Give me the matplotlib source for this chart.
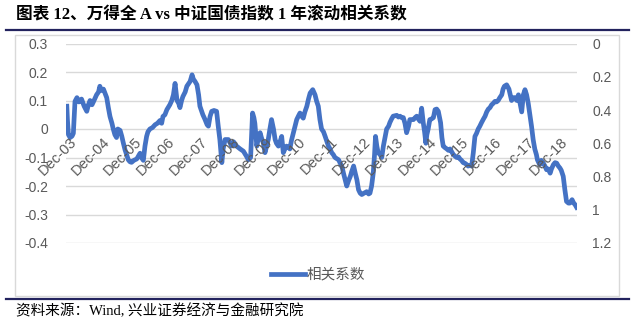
import matplotlib
matplotlib.use("Agg")
import matplotlib.pyplot as plt
from matplotlib.patches import Rectangle
from matplotlib.lines import Line2D
import matplotlib.transforms as mtransforms

# ---------------- data ----------------
t_years = [
    2003.93, 2003.95, 2003.98, 2004.03, 2004.09, 2004.13, 2004.18, 2004.24, 2004.30, 2004.38,
    2004.46, 2004.54, 2004.59, 2004.64, 2004.70, 2004.75, 2004.84, 2004.90, 2004.94, 2004.99,
    2005.05, 2005.10, 2005.15, 2005.20, 2005.25, 2005.31, 2005.35, 2005.40, 2005.45, 2005.49,
    2005.56, 2005.61, 2005.66, 2005.71, 2005.76, 2005.81, 2005.86, 2005.91, 2005.98, 2006.07,
    2006.12, 2006.17, 2006.21, 2006.27, 2006.32, 2006.37, 2006.41, 2006.47, 2006.55, 2006.63,
    2006.70, 2006.78, 2006.83, 2006.87, 2006.93, 2006.99, 2007.08, 2007.14, 2007.19, 2007.24,
    2007.27, 2007.30, 2007.35, 2007.39, 2007.44, 2007.48, 2007.55, 2007.60, 2007.70, 2007.76,
    2007.80, 2007.85, 2007.91, 2007.96, 2008.00, 2008.09, 2008.15, 2008.22, 2008.26, 2008.31,
    2008.36, 2008.43, 2008.51, 2008.56, 2008.61, 2008.67, 2008.71, 2008.77, 2008.87, 2008.97,
    2009.03, 2009.12, 2009.23, 2009.33, 2009.42, 2009.48, 2009.55, 2009.61, 2009.65, 2009.68,
    2009.74, 2009.79, 2009.84, 2009.88, 2009.94, 2009.99, 2010.04, 2010.09, 2010.14, 2010.19,
    2010.25, 2010.30, 2010.34, 2010.40, 2010.45, 2010.50, 2010.55, 2010.60, 2010.65, 2010.71,
    2010.75, 2010.80, 2010.86, 2010.91, 2010.96, 2011.01, 2011.06, 2011.11, 2011.16, 2011.21,
    2011.27, 2011.32, 2011.37, 2011.45, 2011.52, 2011.57, 2011.62, 2011.67, 2011.72, 2011.78,
    2011.83, 2011.87, 2011.93, 2011.98, 2012.03, 2012.08, 2012.13, 2012.24, 2012.29, 2012.34,
    2012.39, 2012.44, 2012.49, 2012.55, 2012.60, 2012.64, 2012.70, 2012.75, 2012.80, 2012.85,
    2012.90, 2012.95, 2013.02, 2013.10, 2013.16, 2013.20, 2013.25, 2013.30, 2013.34, 2013.37,
    2013.41, 2013.45, 2013.51, 2013.56, 2013.61, 2013.66, 2013.71, 2013.77, 2013.81, 2013.86,
    2013.91, 2014.02, 2014.07, 2014.12, 2014.17, 2014.22, 2014.27, 2014.32, 2014.38, 2014.42,
    2014.53, 2014.58, 2014.63, 2014.68, 2014.73, 2014.78, 2014.83, 2014.87, 2014.91, 2014.94,
    2014.98, 2015.03, 2015.08, 2015.14, 2015.19, 2015.24, 2015.29, 2015.36, 2015.40, 2015.44,
    2015.49, 2015.55, 2015.60, 2015.65, 2015.70, 2015.75, 2015.80, 2015.85, 2015.91, 2015.95,
    2016.00, 2016.05, 2016.10, 2016.16, 2016.20, 2016.26, 2016.31, 2016.36, 2016.41, 2016.46,
    2016.51, 2016.56, 2016.61, 2016.67, 2016.72, 2016.77, 2016.82, 2016.87, 2016.92, 2016.97,
    2017.02, 2017.07, 2017.12, 2017.17, 2017.23, 2017.27, 2017.31, 2017.38, 2017.45, 2017.50,
    2017.53, 2017.58, 2017.63, 2017.69, 2017.74, 2017.79, 2017.84, 2017.89, 2017.94, 2017.99,
    2018.04, 2018.09, 2018.14, 2018.19, 2018.24, 2018.29, 2018.32, 2018.39, 2018.44, 2018.50,
    2018.55, 2018.60, 2018.65, 2018.71, 2018.75, 2018.81, 2018.86, 2018.91, 2018.96, 2019.01,
    2019.05, 2019.11, 2019.16, 2019.21, 2019.27, 2019.31, 2019.38, 2019.43, 2019.47, 2019.52,
]
corr = [
    0.080, 0.030, -0.020, -0.030, -0.025, -0.015, 0.097, 0.110, 0.095, 0.105,
    0.080, 0.062, 0.085, 0.100, 0.085, 0.097, 0.120, 0.130, 0.150, 0.135,
    0.140, 0.125, 0.110, 0.075, 0.044, 0.020, 0.000, -0.020, -0.030, 0.000,
    -0.005, -0.025, -0.050, -0.073, -0.090, -0.108, -0.115, -0.117, -0.110, -0.105,
    -0.095, -0.085, -0.100, -0.110, -0.060, -0.026, -0.010, 0.000, 0.005, 0.015,
    0.020, 0.030, 0.020, 0.044, 0.050, 0.068, 0.085, 0.100, 0.120, 0.160,
    0.130, 0.100, 0.090, 0.075, 0.100, 0.114, 0.130, 0.150, 0.167, 0.190,
    0.175, 0.167, 0.155, 0.120, 0.080, 0.050, 0.035, 0.015, 0.010, 0.044,
    0.062, 0.065, 0.062, 0.010, -0.037, -0.118, -0.070, -0.037, -0.037, -0.060,
    -0.045, -0.060, -0.070, -0.078, -0.095, -0.108, -0.100, 0.056, 0.040, 0.020,
    -0.060, -0.030, -0.013, -0.030, -0.050, -0.083, -0.060, -0.037, 0.000, 0.033,
    0.000, -0.037, -0.050, -0.060, -0.045, -0.026, -0.083, -0.070, -0.060, -0.065,
    -0.070, -0.040, -0.013, 0.010, 0.033, 0.045, 0.056, 0.045, 0.038, 0.060,
    0.080, 0.105, 0.126, 0.138, 0.120, 0.097, 0.080, 0.033, 0.000, -0.010,
    -0.026, -0.040, -0.060, -0.070, -0.083, -0.090, -0.100, -0.108, -0.120, -0.130,
    -0.155, -0.178, -0.200, -0.180, -0.166, -0.150, -0.130, -0.155, -0.178, -0.213,
    -0.225, -0.230, -0.225, -0.220, -0.228, -0.225, -0.200, -0.155, -0.090, -0.026,
    -0.060, -0.083, -0.090, -0.100, -0.060, -0.030, 0.000, 0.010, 0.023, 0.035,
    0.045, 0.048, 0.042, 0.045, 0.040, 0.040, 0.020, -0.013, 0.010, 0.033,
    0.033, 0.040, 0.045, 0.035, 0.027, 0.073, 0.022, -0.010, -0.050, -0.020,
    0.000, 0.033, 0.035, 0.040, 0.068, 0.070, 0.062, 0.022, -0.030, -0.060,
    -0.065, -0.070, -0.075, -0.070, -0.080, -0.090, -0.095, -0.100, -0.098, -0.105,
    -0.110, -0.118, -0.120, -0.125, -0.130, -0.128, -0.130, -0.083, -0.026, -0.015,
    0.000, 0.010, 0.022, 0.035, 0.045, 0.060, 0.070, 0.075, 0.085, 0.090,
    0.097, 0.095, 0.100, 0.110, 0.120, 0.140, 0.150, 0.155, 0.140, 0.115,
    0.100, 0.110, 0.110, 0.100, 0.120, 0.090, 0.060, 0.120, 0.138, 0.120,
    0.090, 0.050, 0.010, -0.037, -0.070, -0.090, -0.108, -0.125, -0.110, -0.120,
    -0.130, -0.143, -0.140, -0.155, -0.140, -0.125, -0.118, -0.120, -0.130, -0.137,
    -0.145, -0.166, -0.213, -0.254, -0.260, -0.260, -0.248, -0.260, -0.265, -0.275,
]
x_tick_years = list(range(2003, 2019))
x_tick_labels = ["Dec-%02d" % (y % 100) for y in x_tick_years]
left_ticks = [0.3, 0.2, 0.1, 0, -0.1, -0.2, -0.3, -0.4]
left_labels = ["0.3", "0.2", "0.1", "0", "-0.1", "-0.2", "-0.3", "-0.4"]
right_ticks = [0, 0.2, 0.4, 0.6, 0.8, 1.0, 1.2]
right_labels = ["0", "0.2", "0.4", "0.6", "0.8", "1", "1.2"]
series_name = "相关系数"
title = "图表 12、万得全 A vs 中证国债指数 1 年滚动相关系数"
source = "资料来源：Wind, 兴业证券经济与金融研究院"

# ---------------- style ----------------
W, H = 640, 328
fig = plt.figure(figsize=(W / 100, H / 100), dpi=100)
LINE_C = "#4472C4"
GRID_C = "#D9D9D9"
TXT_C = "#595959"
NAVY = "#23235E"
tick_font = ["Liberation Sans", "DejaVu Sans"]
cjk_serif = ["Liberation Serif", "Noto Sans CJK SC"]


def fx(px):
    return px / W


def fy(py):
    return 1 - py / H


# decorations: title, rules, chart border
fig.text(fx(16), fy(15), title, family=cjk_serif, weight="bold", fontsize=12,
         ha="left", va="center", color="black")
fig.add_artist(Line2D([fx(6), fx(629)], [fy(29.5), fy(29.5)], color=NAVY, lw=1.6))
fig.add_artist(Line2D([fx(6), fx(629)], [fy(299), fy(299)], color=NAVY, lw=1.6))
fig.add_artist(Rectangle((fx(15), fy(296)), fx(619) - fx(15), fy(35) - fy(296),
                         fill=False, edgecolor=GRID_C, lw=1.0))
fig.text(fx(16), fy(311), source, family=cjk_serif, fontsize=10.5,
         ha="left", va="center", color="black")

# plot axes
ax = fig.add_axes([fx(66), fy(243), fx(577) - fx(66), fy(43.5) - fy(243)])
ax.plot(t_years, corr, color=LINE_C, lw=3.4, solid_joinstyle="round", zorder=3)
ax.set_xlim(2003.905, 2019.531)
ax.set_ylim(-0.4, 0.3)
ax.set_yticks(left_ticks)
ax.set_yticklabels(left_labels, family=tick_font, fontsize=10, color=TXT_C)
ax.tick_params(axis="y", length=0, pad=13)
ax.set_xticks([])
ax.grid(axis="y", color=GRID_C, lw=1.0)
for s in ax.spines.values():
    s.set_visible(False)
ax.set_facecolor("none")

# category labels at the y=0 crossing
offset = mtransforms.ScaledTranslation(3 / 100, -6 / 100, fig.dpi_scale_trans)
for yr, lab in zip(x_tick_years, x_tick_labels):
    ax.text(yr + 11 / 12, 0, lab, transform=ax.transData + offset,
            rotation=45, rotation_mode="anchor", ha="right", va="top",
            family=tick_font, fontsize=10.5, color=TXT_C)

# secondary axis (inverted)
ax2 = ax.twinx()
ax2.set_ylim(1.2, 0)
ax2.set_yticks(right_ticks)
ax2.set_yticklabels(right_labels, family=tick_font, fontsize=10, color=TXT_C)
ax2.tick_params(axis="y", length=0, pad=11)
for s in ax2.spines.values():
    s.set_visible(False)

# legend
fig.add_artist(Line2D([fx(271), fx(305)], [fy(274), fy(274)], color=LINE_C, lw=3.4))
fig.text(fx(307), fy(274), series_name, family=["Noto Sans CJK SC"], fontsize=10.5,
         ha="left", va="center", color=TXT_C)

fig.savefig("out.png", dpi=100)
